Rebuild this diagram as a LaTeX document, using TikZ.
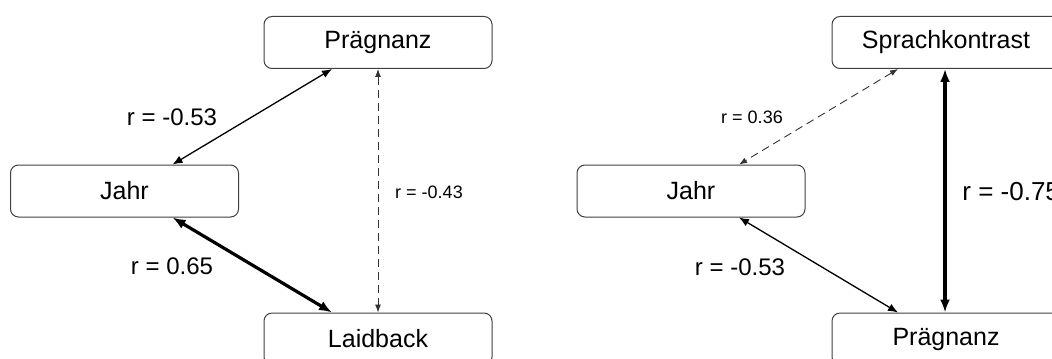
\documentclass[tikz,border=0pt]{standalone}
\usepackage{fontspec}
\setmainfont{Liberation Sans}
\usetikzlibrary{positioning,calc,arrows.meta}
\tikzset{font=\fontsize{12.5}{15}\selectfont}

\begin{document}
\begin{tikzpicture}[x=0.5pt,y=-0.5pt]
	\clip (0,0) rectangle (1052,358);
	\tikzstyle{var}=[draw=black!75, fill=white, rounded corners=4pt, line width=0.5pt, minimum width=114pt, minimum height=26pt, inner sep=0pt]
	\tikzstyle{rbig}=[inner sep=0pt, font=\fontsize{12}{14}\selectfont]
	\tikzstyle{rsmall}=[inner sep=0pt, font=\fontsize{9}{11}\selectfont]
	\tikzstyle{mid}=[line width=0.65pt, {Latex[length=5pt,width=4pt]}-{Latex[length=5pt,width=4pt]}]
	\tikzstyle{strong}=[line width=1.6pt, {Latex[length=6.5pt,width=5pt]}-{Latex[length=6.5pt,width=5pt]}]
	\tikzstyle{weak}=[line width=0.45pt, draw=black!80, dash pattern=on 4pt off 2.5pt, {Latex[length=4pt,width=3pt]}-{Latex[length=4pt,width=3pt]}]

	% linkes Modell
	\node[var] (praegL) at (378, 42.5) {Prägnanz};
	\node[var] (jahrL) at (124.5, 191) {Jahr};
	\node[var] (laidL) at (378, 339) {Laidback};

	\draw[mid] ([xshift=24pt]jahrL.north) -- ([xshift=-23pt]praegL.south);
	\draw[strong] ([xshift=24pt]jahrL.south) -- ([xshift=-23pt]laidL.north);
	\draw[weak] (praegL.south) -- (laidL.north);

	\node[rbig] (rJPL) at (172, 117) {r = -0.53};
	\node[rbig] (rJLL) at (172, 266) {r = 0.65};
	\node[rsmall] (rPLL) at (429, 192) {r = -0.43};

	% rechtes Modell
	\node[var] (sprachR) at (946, 42.5) {Sprachkontrast};
	\node[var] (jahrR) at (691, 191) {Jahr};
	\node[var] (praegR) at (946, 339) {Prägnanz};

	\draw[weak] ([xshift=-24pt]sprachR.south) -- ([xshift=24pt]jahrR.north);
	\draw[mid] ([xshift=24pt]jahrR.south) -- ([xshift=-24pt]praegR.north);
	\draw[strong] ([xshift=-0.5pt]sprachR.south) -- ([xshift=-0.5pt]praegR.north);

	\node[rsmall] (rSJR) at (752, 117) {r = 0.36};
	\node[rbig] (rJPR) at (740, 267) {r = -0.53};
	\node[inner sep=0pt, font=\fontsize{13}{15}\selectfont, anchor=west] (rSPR) at (962, 192) {r = -0.75};
\end{tikzpicture}
\end{document}
